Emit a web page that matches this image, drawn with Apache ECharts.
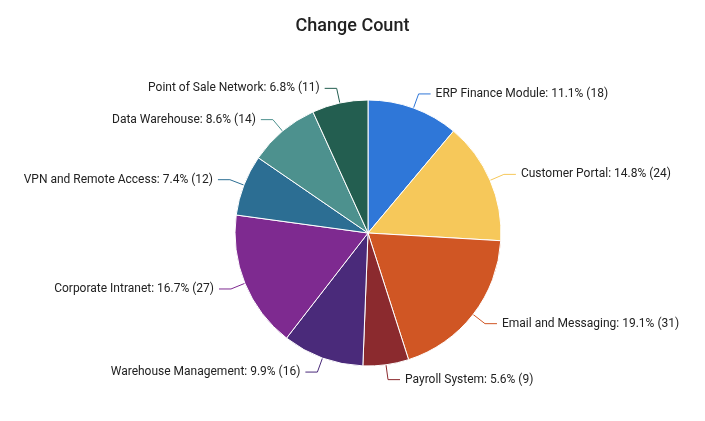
<!DOCTYPE html>
<html><head><meta charset="utf-8">
<script src="https://cdn.jsdelivr.net/npm/echarts@6/dist/echarts.min.js"></script>
<style>html,body{margin:0;padding:0;background:#fff}#c{width:705px;height:421px}</style>
</head><body><div id="c"></div>
<script>
const categories = ["ERP Finance Module","Customer Portal","Email and Messaging","Payroll System","Warehouse Management","Corporate Intranet","VPN and Remote Access","Data Warehouse","Point of Sale Network"];
const values = [18,24,31,9,16,27,12,14,11];
const colors = ["#2f77d8","#f6c85a","#d05624","#8b2a2e","#4a2a7a","#7e2a90","#2c6e93","#4d918e","#235e50"];
const total = values.reduce((a,b)=>a+b,0);
const chart = echarts.init(document.getElementById('c'));
chart.setOption({
  title:{text:"Change Count",left:"center",top:12,textStyle:{fontFamily:"Roboto",fontSize:18,fontWeight:"500",color:"#222"}},
  series:[{
    type:"pie",center:[368,233],radius:[0,133],startAngle:90,clockwise:true,
    data:categories.map((n,i)=>({name:n,value:values[i],itemStyle:{color:colors[i]},labelLine:{lineStyle:{color:colors[i]}}})),
    itemStyle:{borderColor:"#fff",borderWidth:1},
    label:{formatter:p=>p.name+": "+(p.value/total*100).toFixed(1)+"% ("+p.value+")",fontFamily:"Roboto",fontSize:12,color:"#222"},
    labelLine:{length:15,length2:12}
  }]
});
</script></body></html>
